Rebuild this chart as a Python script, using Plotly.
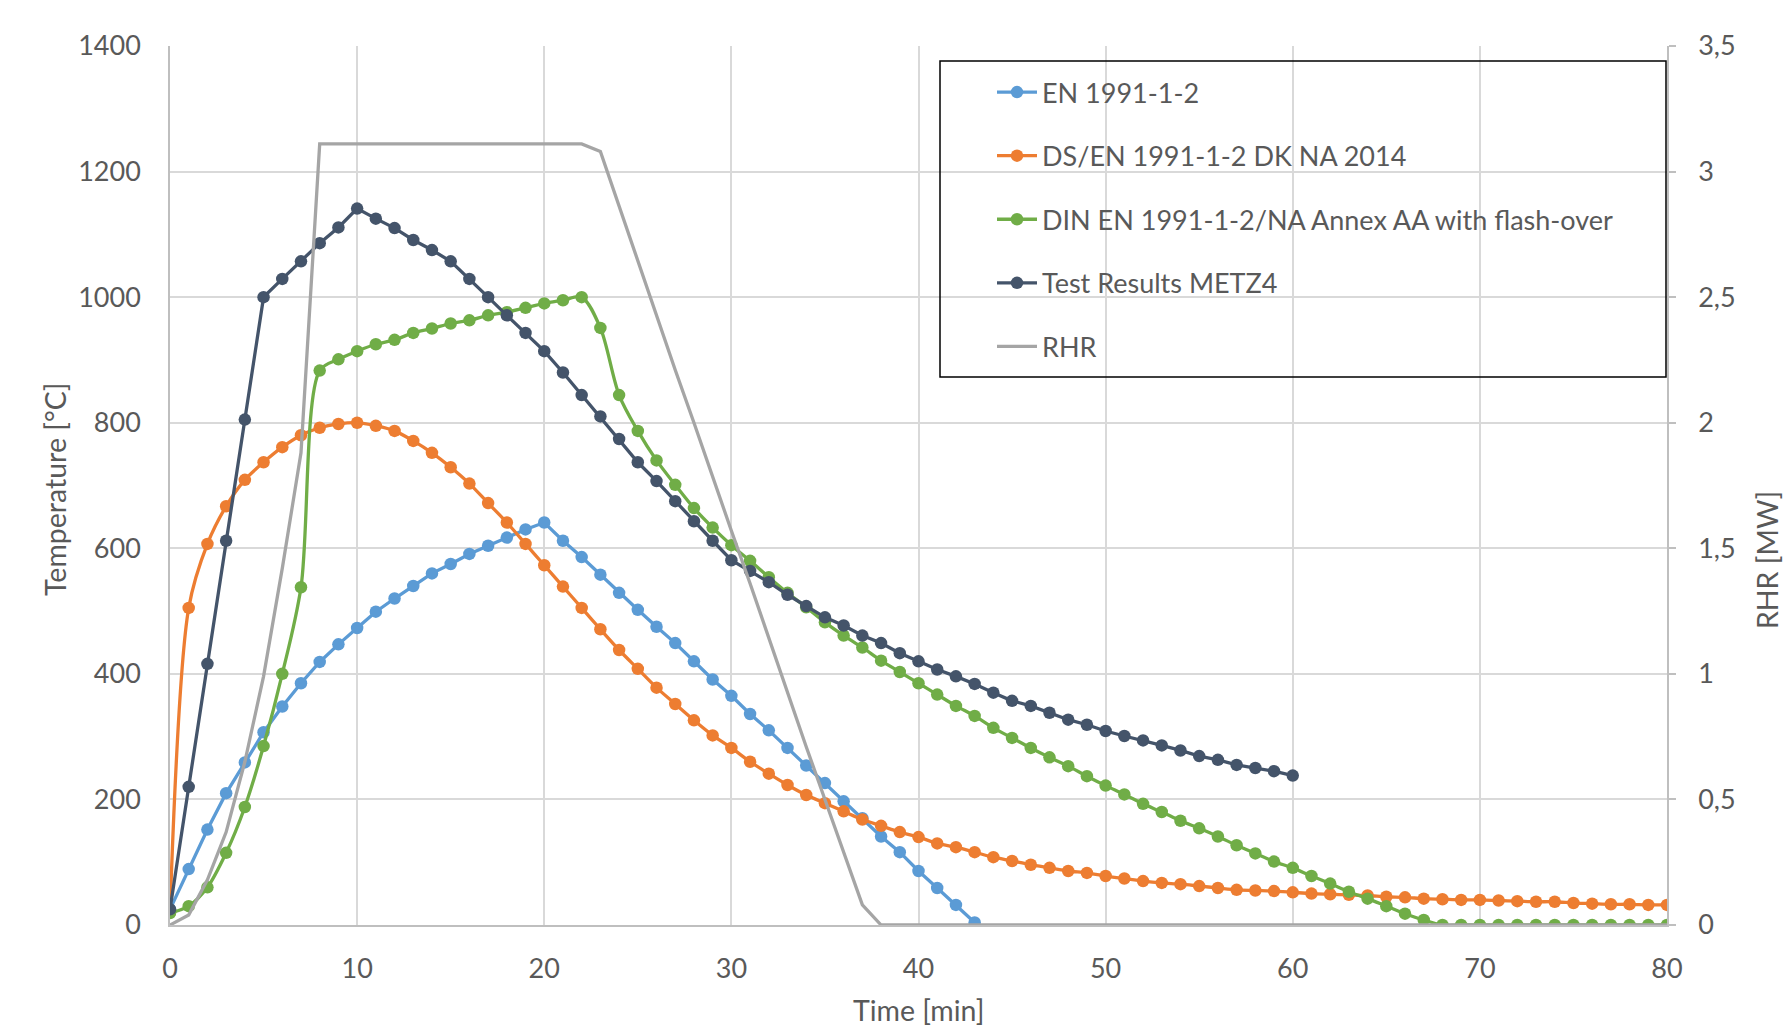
import plotly.graph_objects as go

# ---------------- data ----------------
minutes = list(range(0, 81))

en_1991 = [25, 89, 152, 210, 259, 307, 348, 385, 419, 447, 473, 499, 520, 540, 560, 575,
           591, 604, 617, 630, 641, 612, 586, 558, 529, 502, 475, 449, 420, 391, 365, 336,
           310, 282, 254, 226, 197, 170, 141, 116, 86, 59, 32, 4]

ds_en_dk = [20, 505, 607, 667, 709, 737, 761, 780, 792, 798, 800, 795, 787, 771, 752, 729,
            703, 672, 641, 607, 573, 539, 505, 471, 438, 408, 378, 352, 326, 302, 282, 260,
            241, 223, 207, 194, 181, 168, 158, 148, 140, 130, 124, 116, 108, 102, 96, 91,
            86, 83, 78, 74, 70, 67, 65, 62, 59, 56, 55, 54, 52, 50, 49, 48, 47, 45,
            44, 42, 41, 40, 40, 39, 38, 37, 37, 35, 34, 33, 33, 32, 32]

din_en_aa = [19, 30, 60, 115, 188, 285, 400, 538, 883, 901, 914, 925, 932, 943, 950, 958,
             963, 971, 976, 983, 990, 995, 1000, 951, 844, 787, 740, 701, 664, 633, 605, 580,
             554, 529, 506, 482, 461, 442, 421, 403, 385, 367, 349, 333, 314, 298, 282, 267,
             253, 237, 222, 208, 193, 180, 166, 154, 141, 127, 114, 101, 91, 78, 66, 53,
             42, 30, 18, 8, 0, 0, 0, 0, 0, 0, 0, 0, 0, 0, 0, 0, 0]

metz4 = [25, 220, 416, 612, 805, 1000, 1029, 1057, 1086, 1111, 1141, 1125, 1110, 1091, 1075, 1057,
         1029, 1000, 971, 943, 914, 880, 844, 810, 774, 737, 707, 675, 643, 612, 581, 564,
         546, 526, 508, 490, 477, 461, 449, 433, 420, 407, 396, 384, 370, 357, 349, 338,
         327, 319, 309, 301, 294, 286, 278, 269, 263, 255, 250, 245, 238]

rhr_time = [0, 1, 2, 3, 4, 5, 6, 7, 8, 22, 23, 24, 25, 26, 27, 28, 29, 30, 31, 32, 33,
            34, 35, 36, 37, 38, 80]
rhr_mw = [0, 0.04, 0.18, 0.37, 0.65, 0.99, 1.42, 1.88, 3.11, 3.11, 3.08, 2.86, 2.64, 2.43,
          2.21, 2.00, 1.78, 1.57, 1.36, 1.14, 0.93, 0.71, 0.50, 0.29, 0.08, 0, 0]

y_ticks = [0, 200, 400, 600, 800, 1000, 1200, 1400]
y2_ticks = [0, 0.5, 1, 1.5, 2, 2.5, 3, 3.5]
y2_labels = ["0", "0,5", "1", "1,5", "2", "2,5", "3", "3,5"]
x_ticks = [0, 10, 20, 30, 40, 50, 60, 70, 80]

names = ["EN 1991-1-2", "DS/EN 1991-1-2 DK NA 2014",
         "DIN EN 1991-1-2/NA Annex AA with flash-over", "Test Results METZ4", "RHR"]

# ---------------- style ----------------
FONT = "Lato"
TXT = "#595959"
GRID = "#D9D9D9"
AXIS = "#BFBFBF"
OFF = 8  # page body margin
W, H = 1791 - OFF, 1026 - OFF
# plot area in window pixels
L, R, T, B = 170, 1667, 46, 925


def px(x):
    return (x - L) / (R - L)


def py(y):
    return (B - y) / (B - T)


fig = go.Figure()

series = [
    (en_1991, "#5B9BD5", "linear"),
    (ds_en_dk, "#ED7D31", "spline"),
    (din_en_aa, "#70AD47", "spline"),
    (metz4, "#44546A", "linear"),
]
for i, (vals, col, shape) in enumerate(series):
    fig.add_trace(go.Scatter(
        x=minutes[:len(vals)], y=vals, name=names[i], mode="lines+markers",
        line=dict(color=col, width=3.3, shape=shape, smoothing=0.9),
        marker=dict(color=col, size=12.5), legendgroup=str(i)))

fig.add_trace(go.Scatter(
    x=rhr_time, y=rhr_mw, name=names[4], mode="lines", yaxis="y2",
    line=dict(color="#A5A5A5", width=3.3), legendgroup="4"))

fig.update_layout(
    width=W, height=H,
    margin=dict(l=L - OFF, r=W - (R - OFF), t=T - OFF, b=H - (B - OFF)),
    paper_bgcolor="white", plot_bgcolor="white",
    font=dict(family=FONT, size=27, color=TXT),
    showlegend=True,
    legend=dict(x=px(992), y=py(68), xanchor="left", yanchor="top",
                bgcolor="rgba(0,0,0,0)", borderwidth=0,
                font=dict(family=FONT, size=27, color=TXT),
                tracegroupgap=25.5, itemwidth=40),
    xaxis=dict(range=[0, 80], tickvals=x_ticks, showgrid=True, gridcolor=GRID, gridwidth=1.5,
               showline=True, linecolor=AXIS, linewidth=1.5, zeroline=False, ticks="",
               ticklabelstandoff=19, tickfont=dict(family=FONT, size=27, color=TXT)),
    yaxis=dict(range=[0, 1400], tickvals=y_ticks, showgrid=True, gridcolor=GRID, gridwidth=1.5,
               showline=True, linecolor=AXIS, linewidth=1.5, zeroline=False, ticks="",
               ticklabelstandoff=22, tickfont=dict(family=FONT, size=27, color=TXT)),
    yaxis2=dict(range=[0, 3.5], overlaying="y", side="right", tickvals=y2_ticks,
                ticktext=y2_labels, showgrid=False, zeroline=False, showline=True,
                linecolor=AXIS, linewidth=1.5, ticks="outside", ticklen=7,
                tickcolor=AXIS, tickwidth=1.5, ticklabelstandoff=17,
                tickfont=dict(family=FONT, size=27, color=TXT)),
)

# legend frame
fig.add_shape(type="rect", xref="paper", yref="paper", x0=px(940), x1=px(1666),
              y0=py(377), y1=py(61), line=dict(color="black", width=1.5),
              fillcolor="rgba(0,0,0,0)", layer="above")

# axis titles
fig.add_annotation(text="Time [min]", xref="paper", yref="paper", x=0.5, y=py(1010),
                   showarrow=False, font=dict(family=FONT, size=28.5, color=TXT),
                   xanchor="center", yanchor="middle")
fig.add_annotation(text="Temperature [°C]", xref="paper", yref="paper", x=px(55), y=py(489),
                   showarrow=False, textangle=-90, font=dict(family=FONT, size=28.5, color=TXT),
                   xanchor="center", yanchor="middle")
fig.add_annotation(text="RHR [MW]", xref="paper", yref="paper", x=px(1767), y=py(560),
                   showarrow=False, textangle=-90, font=dict(family=FONT, size=28.5, color=TXT),
                   xanchor="center", yanchor="middle")

fig.write_html("out.html")
